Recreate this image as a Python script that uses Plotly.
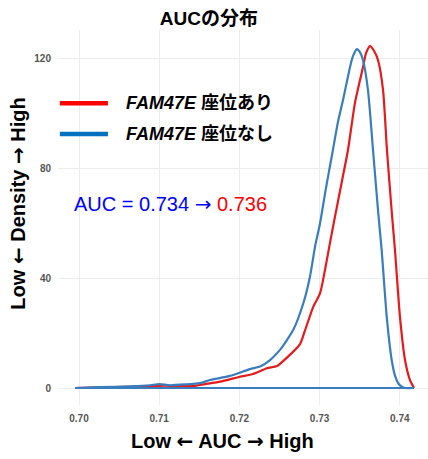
import plotly.graph_objects as go

# AUC values (x) and density (y) for each group
auc_with = [0.69950, 0.70262, 0.70636, 0.70885, 0.71072, 0.71259, 0.71446, 0.71509,
            0.71758, 0.72007, 0.72170, 0.72344, 0.72469, 0.72590, 0.72756, 0.72818,
            0.72922, 0.73005, 0.73067, 0.73130, 0.73192, 0.73279, 0.73354, 0.73441,
            0.73541, 0.73578, 0.73628, 0.73678, 0.73728, 0.73791, 0.73840, 0.73903,
            0.73940, 0.74002, 0.74065, 0.74127, 0.74168, 0.74177]
dens_with = [0.0, 0.2, 0.4, 0.7, 0.9, 0.7, 0.8, 1.1,
             2.3, 4.1, 5.1, 7.2, 8.0, 11.0, 16.0, 21.0,
             29.7, 34.5, 43.0, 53.0, 62.5, 75.5, 86.8, 104.0,
             117.0, 122.0, 124.7, 123.0, 119.6, 108.7, 86.8, 63.0,
             50.3, 26.0, 10.2, 2.9, 0.5, 0.0]

auc_without = [0.69950, 0.70262, 0.70636, 0.70885, 0.70998, 0.71135, 0.71322, 0.71509,
               0.71633, 0.71883, 0.72132, 0.72257, 0.72382, 0.72506, 0.72672, 0.72797,
               0.72880, 0.72943, 0.73005, 0.73080, 0.73155, 0.73229, 0.73292, 0.73379,
               0.73416, 0.73466, 0.73503, 0.73541, 0.73603, 0.73666, 0.73728, 0.73774,
               0.73837, 0.73899, 0.73940, 0.73981, 0.74024, 0.74065, 0.74177]
dens_without = [0.0, 0.3, 0.6, 1.0, 1.4, 1.0, 1.3, 1.8,
                2.9, 4.4, 6.9, 7.8, 10.2, 13.9, 21.2, 30.9,
                40.6, 51.5, 60.0, 73.0, 85.0, 97.0, 105.0, 117.0,
                121.0, 123.6, 122.5, 119.6, 108.7, 86.8, 65.0, 50.3,
                26.0, 10.2, 4.5, 1.7, 0.5, 0.0, 0.0]

x_ticks = [0.70, 0.71, 0.72, 0.73, 0.74]
x_tick_labels = ["0.70", "0.71", "0.72", "0.73", "0.74"]
y_ticks = [0, 40, 80, 120]

label_with = "<i>FAM47E</i> 座位あり"
label_without = "<i>FAM47E</i> 座位なし"

red = "#E41A1C"
blue = "#3A7DBE"
font_fam = "Liberation Sans, Arial, Noto Sans CJK JP, sans-serif"
arr_l = "<span style='font-family:DejaVu Sans'>←</span>"
arr_r = "<span style='font-family:DejaVu Sans'>→</span>"

fig = go.Figure()

for xs, ys, col in [(auc_with, dens_with, red), (auc_without, dens_without, blue)]:
    fig.add_trace(go.Scatter(x=xs, y=ys, mode="lines",
                             line=dict(color=col, width=2.2, shape="spline", smoothing=0.6),
                             showlegend=False, hoverinfo="skip"))
    fig.add_trace(go.Scatter(x=[min(xs), max(xs)], y=[0, 0], mode="lines",
                             line=dict(color=col, width=2.2),
                             showlegend=False, hoverinfo="skip"))

fig.update_layout(
    width=428, height=459,
    margin=dict(l=58, r=0, t=30, b=54),
    paper_bgcolor="white", plot_bgcolor="white",
    font=dict(family=font_fam),
    title=dict(text="AUCの分布", x=0.488, xanchor="center", y=0.961, yanchor="middle",
               font=dict(size=19, color="black", family=font_fam, weight="bold")),
    xaxis=dict(range=[0.697382, 0.743517], tickvals=x_ticks, ticktext=x_tick_labels,
               showgrid=True, gridcolor="#EDEDED", gridwidth=1, zeroline=False,
               showline=False, ticks="outside", ticklen=4, tickcolor="rgba(0,0,0,0)",
               tickfont=dict(size=10, color="#555555", family=font_fam, weight="bold")),
    yaxis=dict(range=[-6.2, 130.56], tickvals=y_ticks,
               showgrid=True, gridcolor="#EDEDED", gridwidth=1, zeroline=False,
               showline=False, ticks="outside", ticklen=4, tickcolor="rgba(0,0,0,0)",
               tickfont=dict(size=10, color="#555555", family=font_fam, weight="bold")),
)

# axis titles
fig.add_annotation(text=f"Low {arr_l} AUC {arr_r} High", xref="paper", yref="paper", x=0.445, y=0,
                   yshift=-36, showarrow=False, xanchor="center", yanchor="middle",
                   font=dict(size=20, color="black", family=font_fam, weight="bold"))
fig.add_annotation(text=f"Low {arr_l} Density {arr_r} High", xref="paper", yref="paper",
                   x=-0.109, y=0.536,
                   textangle=-90, showarrow=False, xanchor="center", yanchor="middle",
                   font=dict(size=20, color="black", family=font_fam, weight="bold"))

# legend
for yp, col, lab in [(0.805, "#FF0000", label_with), (0.7227, "#0070C0", label_without)]:
    fig.add_shape(type="line", xref="paper", yref="paper", x0=0.005, x1=0.135, y0=yp, y1=yp,
                  line=dict(color=col, width=4.5))
    fig.add_annotation(text=lab, xref="paper", yref="paper", x=0.178, y=yp, showarrow=False,
                       xanchor="left", yanchor="middle",
                       font=dict(size=18, color="black", family=font_fam, weight="bold"))

# AUC text
fig.add_annotation(text=f"AUC = 0.734 {arr_r} <span style='color:#FF0000'>0.736</span>",
                   xref="paper", yref="paper", x=0.037, y=0.536, showarrow=False,
                   xanchor="left", yanchor="middle",
                   font=dict(size=20, color="#0000FF", family=font_fam))

fig.write_html("out.html", config={"displayModeBar": False},
               post_script="document.body.style.margin='0';")
